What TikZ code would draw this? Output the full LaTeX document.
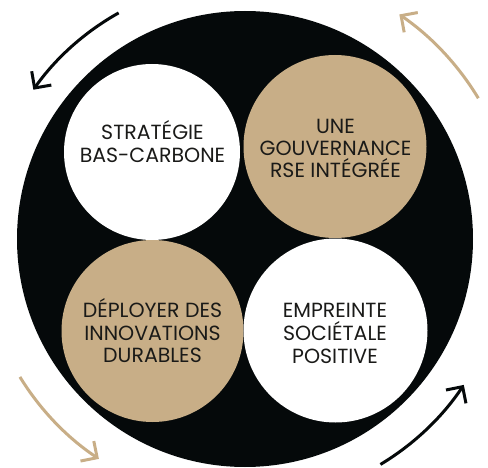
\documentclass[tikz,border=0pt]{standalone}
\usepackage{fontspec}
\setmainfont{Poppins}
\usetikzlibrary{arrows.meta,calc}
\definecolor{tan}{RGB}{200,174,135}
\definecolor{ink}{RGB}{5,9,10}
\definecolor{txt}{RGB}{26,26,24}
\tikzset{
  disc/.style={circle, inner sep=0pt, minimum size=#1},
  lbl/.style={anchor=base, inner sep=0pt, text=txt, font=\fontsize{20.5}{22.5}\selectfont},
  cyc/.style={line width=3pt, -{Straight Barb[length=12pt,width=24pt]}},
}
\begin{document}
\begin{tikzpicture}[x=1pt,y=1pt]
\useasboundingbox (0,0) rectangle (488,467);
\coordinate (c) at (245,228);
% big black disc
\node[disc=456pt, fill=ink] (big) at (c) {};
% four inner discs
\node[disc=176pt, fill=white] (tl) at (152,315) {};
\node[disc=183pt, fill=tan] (tr) at (335,320.5) {};
\node[disc=182pt, fill=tan] (bl) at (152.5,136) {};
\node[disc=184pt, fill=white] (br) at (335.5,136.5) {};
% labels
\node[lbl] (tl1) at (152.5,327) {STRATÉGIE};
\node[lbl] (tl2) at (152.5,305) {BAS-CARBONE};
\node[lbl] (tr1) at (335.5,334) {UNE};
\node[lbl] (tr2) at (335.5,312) {GOUVERNANCE};
\node[lbl] (tr3) at (335.5,290) {RSE INTÉGRÉE};
\node[lbl] (bl1) at (152.5,150) {DÉPLOYER DES};
\node[lbl] (bl2) at (152.5,127) {INNOVATIONS};
\node[lbl] (bl3) at (152.5,105) {DURABLES};
\node[lbl] (br1) at (335,150) {EMPREINTE};
\node[lbl] (br2) at (335,127) {SOCIÉTALE};
\node[lbl] (br3) at (335,104) {POSITIVE};
% cycle arrows
\coordinate (a1) at ($(c)+(119.2:259)$);
\coordinate (a2) at ($(c)+(31.1:272.5)$);
\coordinate (a3) at ($(c)+(211.5:264)$);
\coordinate (a4) at ($(c)+(-59:263)$);
\draw[cyc, ink] (a1) arc[start angle=119.2, end angle=144.8, radius=259];
\draw[cyc, tan] (a2) arc[start angle=31.1, end angle=55.5, radius=272.5];
\draw[cyc, tan] (a3) arc[start angle=211.5, end angle=236.4, radius=264];
\draw[cyc, ink] (a4) arc[start angle=-59, end angle=-33.7, radius=263];
\end{tikzpicture}
\end{document}
